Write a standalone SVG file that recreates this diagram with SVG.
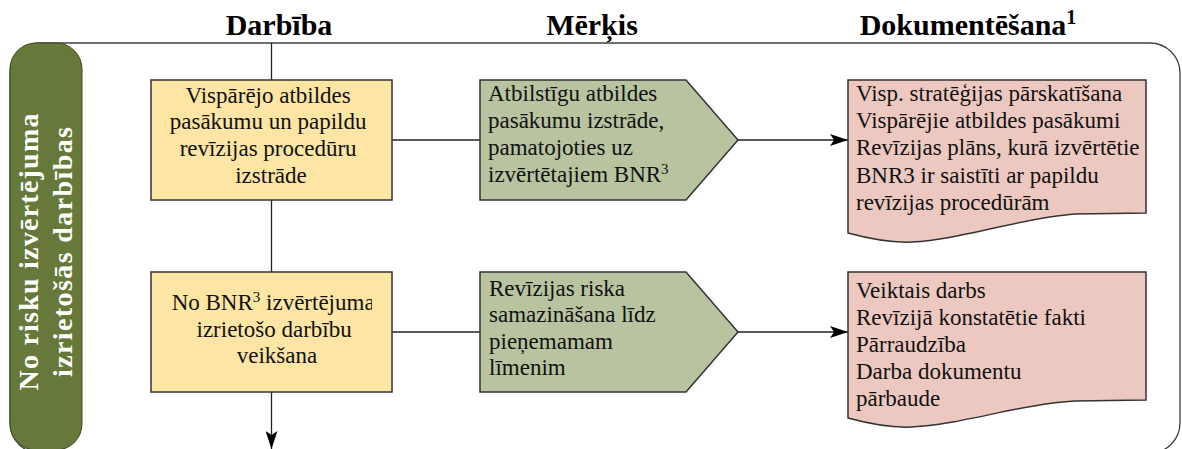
<svg xmlns="http://www.w3.org/2000/svg" width="1182" height="449" viewBox="0 0 1182 449">
  <style>
    .head { font-family: "Liberation Serif", "Times New Roman", serif; font-weight: bold; font-size: 30px; fill: #000; text-anchor: middle; }
    .body { font-family: "Liberation Serif", "Times New Roman", serif; font-size: 23px; fill: #111; }
    .mid { text-anchor: middle; }
    .lane { font-family: "Liberation Serif", "Times New Roman", serif; font-weight: bold; font-size: 28px; fill: #fff; text-anchor: middle; }
    .act { fill: #fde5a4; stroke: #333; stroke-width: 1.5; }
    .goal { fill: #b8c3a0; stroke: #333; stroke-width: 1.5; }
    .doc { fill: #ecc8c0; stroke: #333; stroke-width: 1.5; }
    .conn { fill: none; stroke: #222; stroke-width: 1.3; }
    .sup { font-size: 15px; }
  </style>
  <defs>
    <marker id="arrow" markerWidth="18" markerHeight="12" refX="18" refY="6" orient="auto" markerUnits="userSpaceOnUse">
      <path d="M0,0 L18,6 L0,12 L4,6 Z" fill="#000"/>
    </marker>
    <clipPath id="clipAct2">
      <rect x="152" y="273" width="220" height="118"/>
    </clipPath>
  </defs>

  <rect width="1182" height="449" fill="#fff"/>

  <!-- column headings -->
  <g id="headings">
    <text class="head" x="279" y="35">Darbība</text>
    <text class="head" x="592" y="35">Mērķis</text>
    <text class="head" x="968" y="35">Dokumentēšana<tspan font-size="20" dy="-11">1</tspan></text>
  </g>

  <!-- swimlane frame -->
  <g id="lane">
    <rect x="10" y="43" width="1170" height="410" rx="30" ry="30" fill="none" stroke="#404040" stroke-width="1.3"/>
    <rect x="10" y="43" width="72" height="407" rx="26" ry="26" fill="#66793a" stroke="#3d4822" stroke-width="1"/>
    <g transform="translate(46,252) rotate(-90)">
      <text class="lane" x="0" y="-8" textLength="277" lengthAdjust="spacing">No risku izvērtējuma</text>
      <text class="lane" x="0" y="26" textLength="250" lengthAdjust="spacing">izrietošās darbības</text>
    </g>
  </g>

  <!-- connectors -->
  <g id="connectors">
    <line class="conn" x1="271.5" y1="43" x2="271.5" y2="80"/>
    <line class="conn" x1="271.5" y1="200" x2="271.5" y2="272"/>
    <line class="conn" x1="271.5" y1="392" x2="271.5" y2="449" marker-end="url(#arrow)"/>
    <line class="conn" x1="392" y1="140" x2="480" y2="140"/>
    <line class="conn" x1="738" y1="140" x2="848" y2="140" marker-end="url(#arrow)"/>
    <line class="conn" x1="392" y1="332" x2="480" y2="332"/>
    <line class="conn" x1="738" y1="332" x2="848" y2="332" marker-end="url(#arrow)"/>
  </g>

  <!-- activity 1 -->
  <g id="act1">
    <rect class="act" x="151" y="80" width="241" height="120"/>
    <text class="body mid" x="271">
      <tspan x="271" y="103">Vispārējo atbildes</tspan>
      <tspan x="271" y="129">pasākumu un papildu</tspan>
      <tspan x="271" y="156">revīzijas procedūru</tspan>
      <tspan x="271" y="183">izstrāde</tspan>
    </text>
  </g>

  <!-- activity 2 -->
  <g id="act2">
    <rect class="act" x="151" y="272" width="241" height="120"/>
    <text class="body mid" clip-path="url(#clipAct2)">
      <tspan x="276" y="310">No BNR<tspan class="sup" dy="-8">3</tspan><tspan dy="8"> izvērtējuma</tspan></tspan>
      <tspan x="277" y="337">izrietošo darbību</tspan>
      <tspan x="277" y="363">veikšana</tspan>
    </text>
  </g>

  <!-- goal 1 -->
  <g id="goal1">
    <path class="goal" d="M480,80 H686 L738,140 L686,200 H480 Z"/>
    <text class="body">
      <tspan x="488" y="101">Atbilstīgu atbildes</tspan>
      <tspan x="488" y="128">pasākumu izstrāde,</tspan>
      <tspan x="488" y="155">pamatojoties uz</tspan>
      <tspan x="488" y="182">izvērtētajiem BNR<tspan class="sup" dy="-8">3</tspan></tspan>
    </text>
  </g>

  <!-- goal 2 -->
  <g id="goal2">
    <path class="goal" d="M480,272 H686 L738,332 L686,392 H480 Z"/>
    <text class="body">
      <tspan x="489" y="296">Revīzijas riska</tspan>
      <tspan x="489" y="322">samazināšana līdz</tspan>
      <tspan x="489" y="349">pieņemamam</tspan>
      <tspan x="489" y="375">līmenim</tspan>
    </text>
  </g>

  <!-- documentation 1 -->
  <g id="doc1">
    <path class="doc" d="M848,80 H1146 V213 L1075,214 C1020,218 960,240 912,242 C890,243 870,239 848,233 Z"/>
    <text class="body">
      <tspan x="856" y="101">Visp. stratēģijas pārskatīšana</tspan>
      <tspan x="856" y="128">Vispārējie atbildes pasākumi</tspan>
      <tspan x="856" y="155">Revīzijas plāns, kurā izvērtētie</tspan>
      <tspan x="856" y="183">BNR3 ir saistīti ar papildu</tspan>
      <tspan x="856" y="210">revīzijas procedūrām</tspan>
    </text>
  </g>

  <!-- documentation 2 -->
  <g id="doc2">
    <path class="doc" d="M848,272 H1146 V400 L1075,401 C1020,404 960,425 912,427 C890,428 870,424 848,418 Z"/>
    <text class="body">
      <tspan x="856" y="298">Veiktais darbs</tspan>
      <tspan x="856" y="325">Revīzijā konstatētie fakti</tspan>
      <tspan x="856" y="352">Pārraudzība</tspan>
      <tspan x="856" y="379">Darba dokumentu</tspan>
      <tspan x="856" y="406">pārbaude</tspan>
    </text>
  </g>
</svg>
